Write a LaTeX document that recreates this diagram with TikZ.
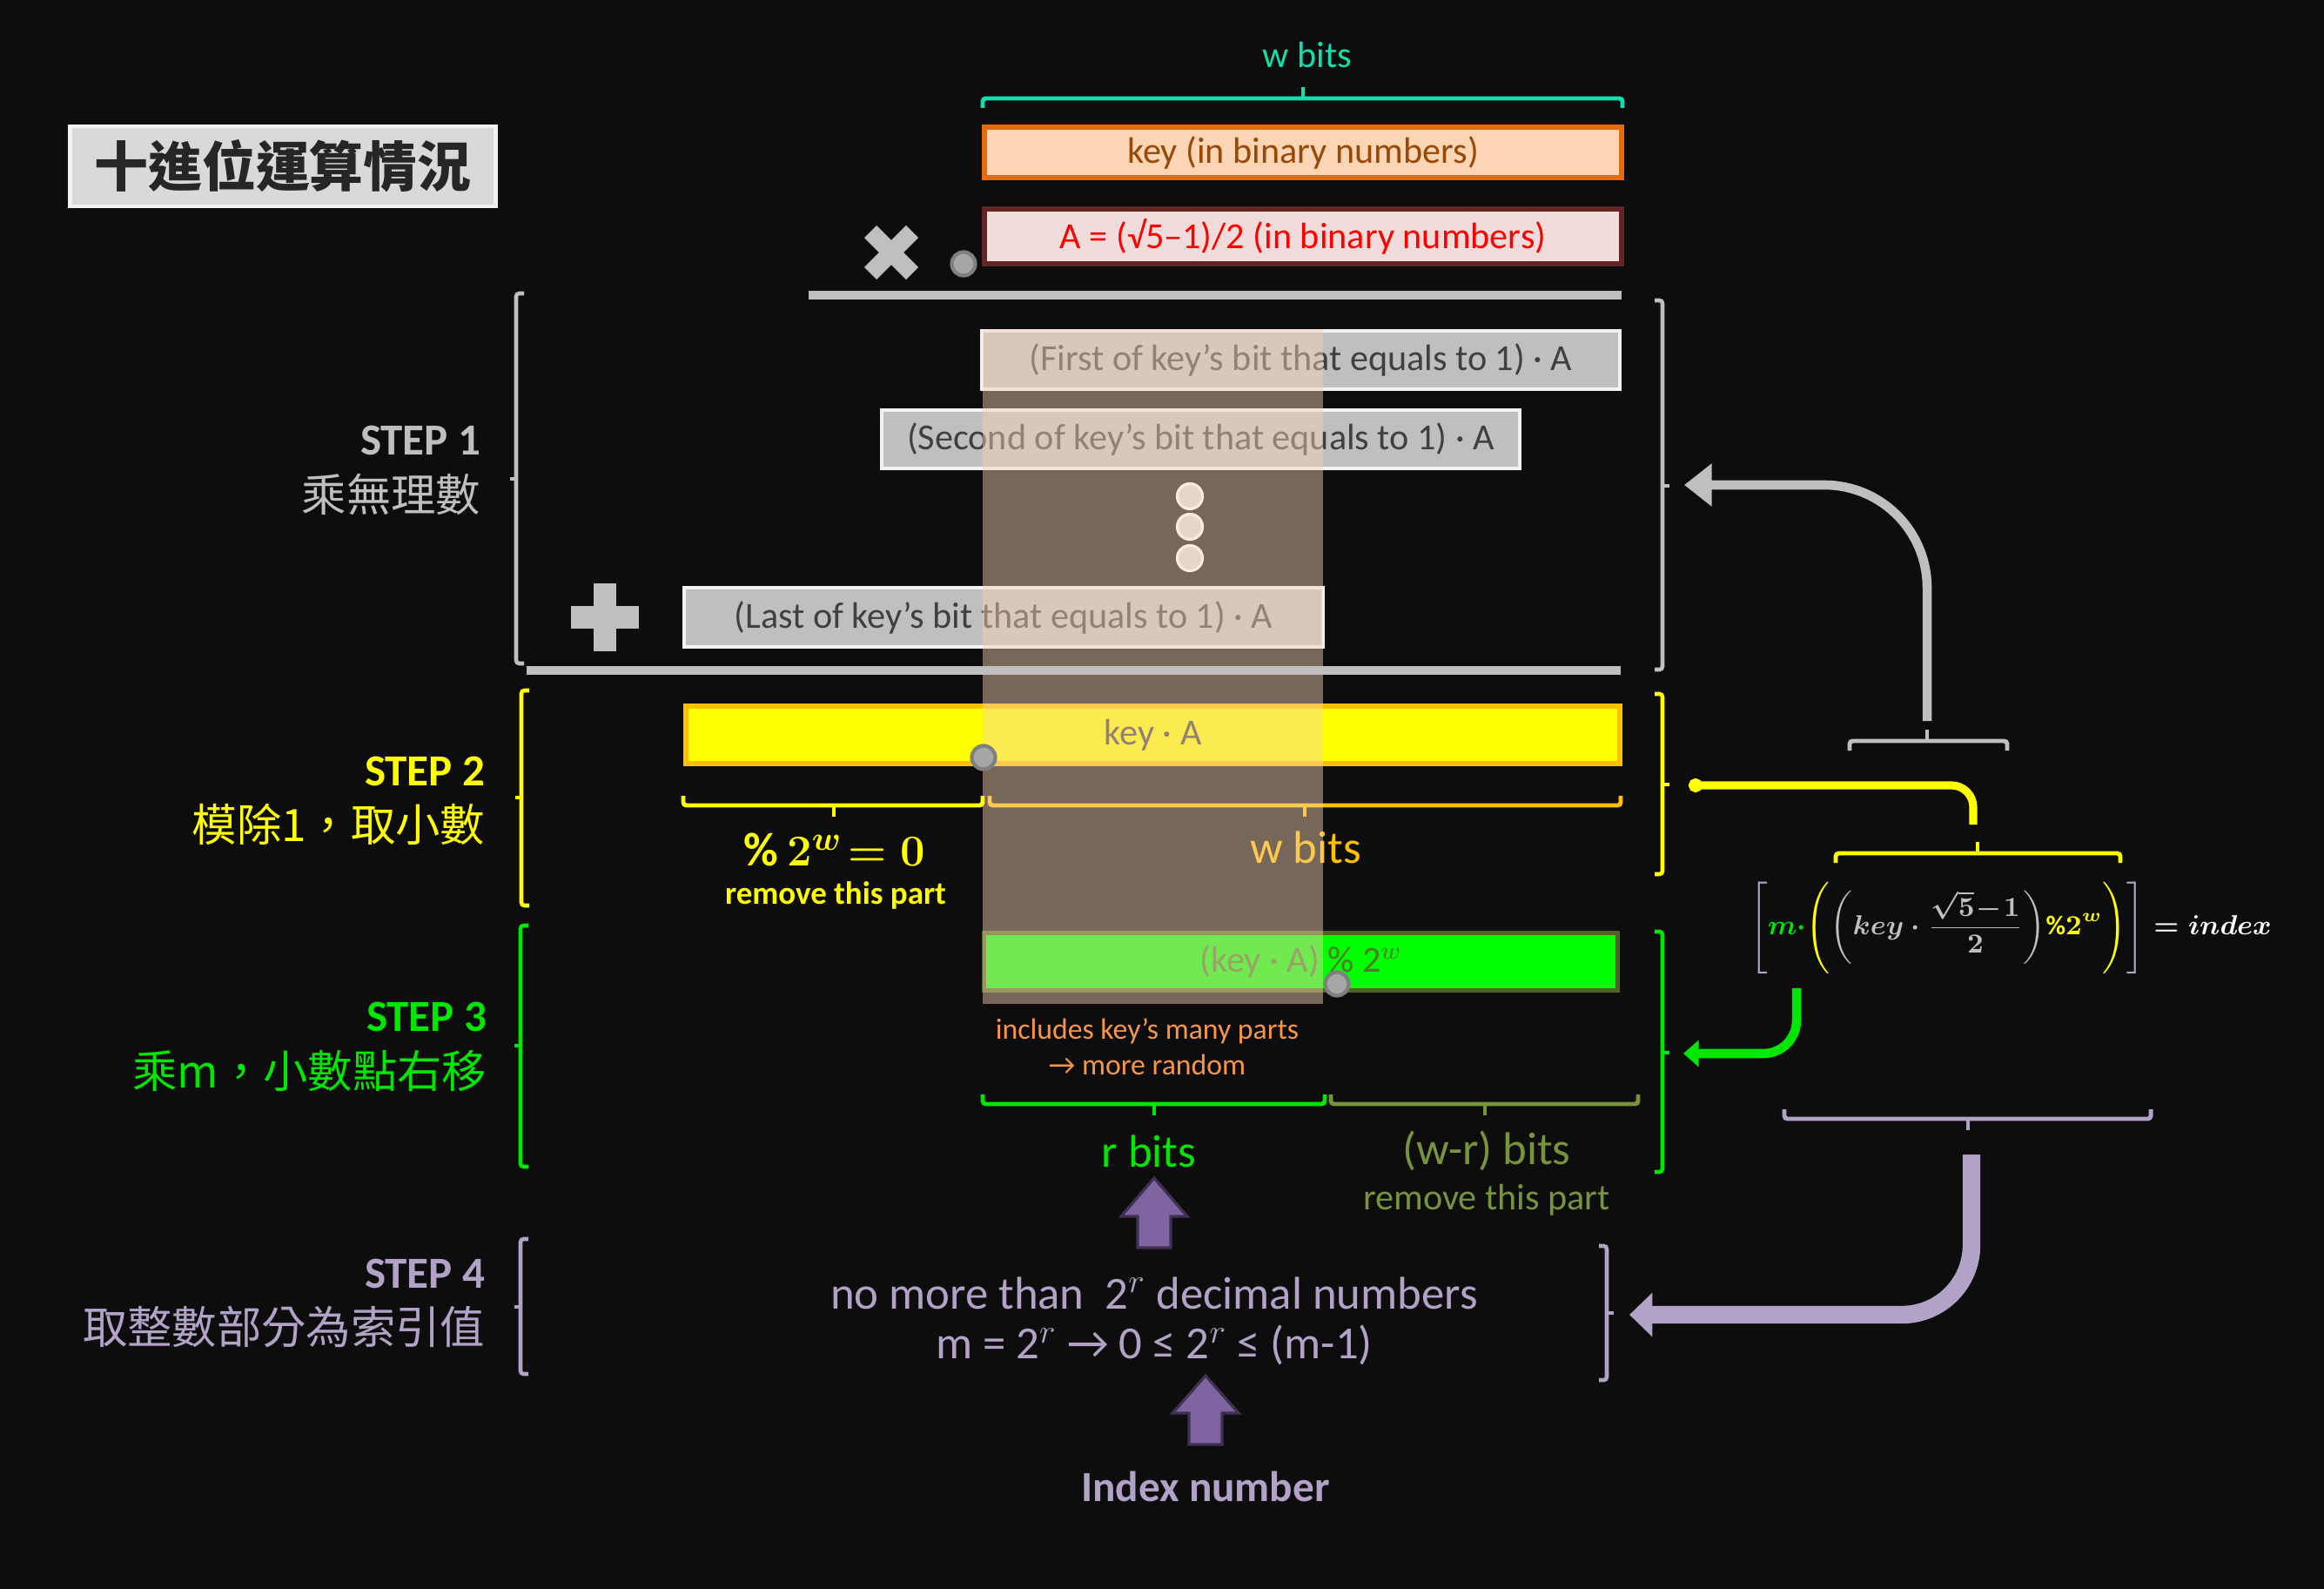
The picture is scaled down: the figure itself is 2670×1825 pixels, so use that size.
\documentclass[tikz,border=0pt]{standalone}
\usepackage{fontspec}
\setmainfont{Carlito}
\newfontfamily\cjk{Noto Sans CJK TC}
\usetikzlibrary{arrows.meta}
\definecolor{bgc}{HTML}{0D0D0D}
\definecolor{grayc}{HTML}{BFBFBF}
\definecolor{titlef}{HTML}{D9D9D9}
\definecolor{titleb}{HTML}{F2F2F2}
\definecolor{titlet}{HTML}{262626}
\definecolor{tealc}{HTML}{14DCAA}
\definecolor{keyf}{HTML}{FCD5B5}
\definecolor{keyb}{HTML}{E46C0A}
\definecolor{keyt}{HTML}{984807}
\definecolor{af}{HTML}{F2DCDB}
\definecolor{ab}{HTML}{632523}
\definecolor{atxt}{HTML}{FF0000}
\definecolor{gbt}{HTML}{404040}
\definecolor{ovl}{HTML}{F8D3B2}
\definecolor{yel}{HTML}{FFFF00}
\definecolor{goldc}{HTML}{FFC000}
\definecolor{grn}{HTML}{00E600}
\definecolor{boxg}{HTML}{00FF00}
\definecolor{gbord}{HTML}{4F6228}
\definecolor{modt}{HTML}{4E7A2A}
\definecolor{olivec}{HTML}{77933C}
\definecolor{orng}{HTML}{F79646}
\definecolor{lav}{HTML}{B3A2C7}
\definecolor{purp}{HTML}{8064A2}
\definecolor{purpd}{HTML}{3F3151}
\definecolor{dotc}{HTML}{D9D9D9}
\definecolor{circf}{HTML}{A6A6A6}
\definecolor{circd}{HTML}{7F7F7F}
\newcommand\idxformula{{\boldmath$\displaystyle\textcolor{lav}{\Biggl[}\textcolor{grn}{m\cdot}\textcolor{yel}{\Biggl(}\textcolor{grayc}{\biggl(key\cdot\frac{\sqrt{5}\!-\!1}{2}\biggr)}\textcolor{yel}{\%\mathbf{2}^{w}\Biggr)}\textcolor{lav}{\Biggr]}\textcolor{white}{{}=index}$}}
\tikzset{
 box/.style={draw, inner sep=0pt, font=\fontsize{12}{14}\selectfont},
 graybox/.style={box, fill=grayc, draw=titleb, line width=1.2pt, text=gbt, minimum width=7.33cm, minimum height=0.67cm},
 brk/.style={line width=1.3pt, rounded corners=1pt},
 brc/.style={line width=1.4pt, rounded corners=1pt},
 steplbl/.style={anchor=east, inner sep=0pt, font=\bfseries\fontsize{14.5}{17}\selectfont},
 stepcjk/.style={anchor=east, inner sep=0pt, font=\cjk\fontsize{14.6}{17}\selectfont},
 bits/.style={inner sep=0pt, font=\fontsize{15}{18}\selectfont},
 gcirc/.style={circle, fill=circf, draw=circd, line width=1.2pt, minimum size=0.27cm, inner sep=0pt},
 dotn/.style={circle, fill=dotc, draw=white, line width=0.9pt, minimum size=0.29cm, inner sep=0pt},
 blk/.style={fill=purp, draw=purpd, line width=0.9pt, line join=miter},
}
\newcommand\lbrk[5]{\draw[brk,#1] (#2+9,#3) -- (#2,#3) -- (#2,#4) -- (#2+9,#4); \draw[brk,#1] (#2,#5) -- (#2-7,#5);}
\newcommand\rbrk[5]{\draw[brk,#1] (#2-9,#3) -- (#2,#3) -- (#2,#4) -- (#2-9,#4); \draw[brk,#1] (#2,#5) -- (#2+8,#5);}
\newcommand\brup[5]{\draw[brc,#1] (#2,#4-11) -- (#2,#4) -- (#3,#4) -- (#3,#4-11); \draw[brc,#1] (#5,#4) -- (#5,#4+13);}
\newcommand\brdn[5]{\draw[brc,#1] (#2,#4+11) -- (#2,#4) -- (#3,#4) -- (#3,#4+11); \draw[brc,#1] (#5,#4) -- (#5,#4-13);}
\begin{document}
\begin{tikzpicture}[x=0.01cm,y=-0.01cm]
\useasboundingbox (0,0) rectangle (2670,1825);
\fill[bgc] (0,0) rectangle (2670,1825);

% title
\node[draw=titleb, fill=titlef, line width=1.4pt, minimum width=4.88cm, minimum height=0.92cm, inner sep=0pt, font=\cjk\bfseries\fontsize{17.6}{20}\selectfont, text=titlet] (title) at (325,191) {十進位運算情況};

% top: w bits
\node[inner sep=0pt, text=tealc, font=\fontsize{12}{14}\selectfont] (wtop) at (1502,63) {w bits};
\brdn{tealc}{1129}{1864}{113}{1497}

\node[box, fill=keyf, draw=keyb, line width=1.7pt, text=keyt, minimum width=7.31cm, minimum height=0.58cm] (keybox) at (1497,175) {key (in binary numbers)};
\node[box, fill=af, draw=ab, line width=1.7pt, text=atxt, minimum width=7.31cm, minimum height=0.63cm] (abox) at (1497,271.5) {A = (√5–1)/2 (in binary numbers)};

% multiply sign and dot
\draw[grayc, line width=5.7pt] (1000,266) -- (1048,314);
\draw[grayc, line width=5.7pt] (1000,314) -- (1048,266);
\node[gcirc] (mdot) at (1107,303) {};
\draw[grayc, line width=2.9pt] (929,339) -- (1863,339);

% step 1 partial products
\node[graybox] (first) at (1494.5,413.5) {(First of key’s bit that equals to 1) · A};
\node[graybox] (second) at (1379.5,504.5) {(Second of key’s bit that equals to 1) · A};
\node[dotn] (d1) at (1367,570) {};
\node[dotn] (d2) at (1367,605) {};
\node[dotn] (d3) at (1367,641) {};
\node[graybox, minimum height=0.68cm] (last) at (1153,709) {(Last of key’s bit that equals to 1) · A};
\draw[grayc, line width=7.4pt] (656,709) -- (734,709);
\draw[grayc, line width=7.4pt] (695,670) -- (695,748);

% step 2
\node[box, fill=yel, draw=goldc, line width=1.7pt, text=gbt, minimum width=10.73cm, minimum height=0.66cm] (keyA) at (1324.5,844) {key · A};
\brup{yel}{785}{1129}{925}{958}
\brup{goldc}{1137}{1862}{925}{1499}
\node[inner sep=0pt, text=yel, font=\fontsize{15.5}{18}\selectfont] (mod0) at (959,976) {{\boldmath$\%\,2^{w}\!= 0$}};
\node[inner sep=0pt, text=yel, font=\bfseries\fontsize{10.5}{13}\selectfont] (rm1) at (960,1028) {remove this part};
\node[bits, text=goldc] (wbits) at (1500,973) {w bits};

% step 3
\node[box, fill=boxg, draw=gbord, line width=1.4pt, text=modt, minimum width=7.28cm, minimum height=0.66cm] (modbox) at (1494.5,1104.5) {(key · A) \% 2$^{w}$};

% overlay column
\fill[ovl, fill opacity=0.455] (1129,378) rectangle (1520,1153);

\draw[grayc, line width=2.9pt] (605,770) -- (1862,770);
\node[gcirc] (c1) at (1130,870) {};
\node[gcirc] (c2) at (1536,1130) {};

\node[inner sep=0pt, text=orng, font=\fontsize{9.6}{12}\selectfont] (inc1) at (1318,1184) {includes key’s many parts};
\node[inner sep=0pt, text=orng, font=\fontsize{9.6}{12}\selectfont] (inc2) at (1318,1223) {→ more random};
\brup{grn}{1129}{1522}{1268}{1326}
\brup{olivec}{1529}{1882}{1268}{1706}
\node[bits, text=grn] (rbits) at (1320,1322) {r bits};
\node[bits, text=olivec] (wrbits) at (1708,1322) {(w-r) bits};
\node[inner sep=0pt, text=olivec, font=\fontsize{12}{14}\selectfont] (rm2) at (1708,1378) {remove this part};

% step 4
\draw[blk] (1326,1353) -- (1364,1397) -- (1345,1397) -- (1345,1433) -- (1307,1433) -- (1307,1397) -- (1288,1397) -- cycle;
\node[bits, text=lav] (nomore) at (1326,1485) {no more than\ \ 2$^{r}$ decimal numbers};
\node[bits, text=lav] (mrange) at (1326,1545) {m = 2$^{r}$\ → 0 ≤ 2$^{r}$ ≤ (m-1)};
\draw[blk] (1385,1580) -- (1423,1623) -- (1404,1623) -- (1404,1659) -- (1366,1659) -- (1366,1623) -- (1347,1623) -- cycle;
\node[inner sep=0pt, text=lav, font=\bfseries\fontsize{14}{17}\selectfont] (idxn) at (1385,1707) {Index number};

% step labels
\node[steplbl, text=grayc] (s1a) at (553,506) {STEP 1};
\node[stepcjk, text=grayc] (s1b) at (553,568) {乘無理數};
\node[steplbl, text=yel] (s2a) at (558,886) {STEP 2};
\node[stepcjk, text=yel] (s2b) at (558,947) {模除1，取小數};
\node[steplbl, text=grn] (s3a) at (560,1168) {STEP 3};
\node[stepcjk, text=grn] (s3b) at (560,1230) {乘m，小數點右移};
\node[steplbl, text=lav] (s4a) at (558,1463) {STEP 4};
\node[stepcjk, text=lav] (s4b) at (558,1524) {取整數部分為索引值};

% brackets
\lbrk{grayc}{593}{337}{762}{550}
\lbrk{yel}{599}{793}{1040}{916}
\lbrk{grn}{598}{1063}{1340}{1201}
\lbrk{lav}{598}{1423}{1578}{1501}
\rbrk{grayc}{1910}{345}{769}{558}
\rbrk{yel}{1910}{797}{1004}{901}
\rbrk{grn}{1910}{1070}{1346}{1209}
\rbrk{lav}{1846}{1431}{1585}{1508}

% formula
\node[inner sep=0pt, font=\fontsize{8.8}{16.2}\selectfont] (formula) at (2310,1065) {\idxformula};
\brdn{grayc}{2125}{2306}{851}{2214}
\brdn{yel}{2109}{2436}{980}{2272}
\brup{lav}{2050}{2471}{1285}{2261}

% connectors
\coordinate (gS) at (2214,828);
\coordinate (gE) at (1935,557);
\draw[grayc, line width=3pt, rounded corners=1.18cm, -{Triangle[length=9pt,width=13.5pt]}] (gS) |- (gE);
\coordinate (yS) at (2267,947);
\coordinate (yE) at (1940,902);
\draw[yel, line width=2.6pt, rounded corners=0.25cm, -{Circle[length=4.5pt]}] (yS) |- (yE);
\coordinate (gnS) at (2064,1135);
\coordinate (gnE) at (1934,1210);
\draw[grn, line width=3pt, rounded corners=0.38cm, -{Triangle[length=5pt,width=8.5pt]}] (gnS) |- (gnE);
\coordinate (pS) at (2265,1326);
\coordinate (pE) at (1872,1510);
\draw[lav, line width=5.8pt, rounded corners=0.8cm, -{Triangle[length=7.5pt,width=14pt]}] (pS) |- (pE);
\end{tikzpicture}
\end{document}
